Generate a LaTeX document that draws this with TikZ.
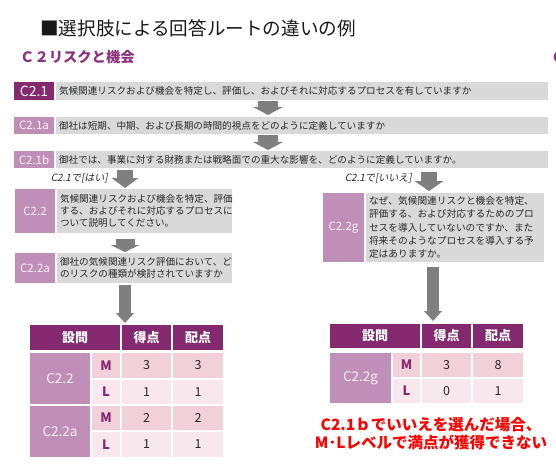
\documentclass[tikz,border=0pt]{standalone}
\usepackage{fontspec}
\setmainfont{Noto Sans CJK JP}
\newfontfamily\slantfont[FakeSlant=0.2]{Noto Sans CJK JP}
\usetikzlibrary{arrows.meta}
\definecolor{pdark}{RGB}{132,40,112}
\definecolor{ptitle}{RGB}{140,50,128}
\definecolor{plight}{RGB}{192,143,183}
\definecolor{pinkM}{RGB}{242,208,217}
\definecolor{pinkL}{RGB}{248,231,236}
\definecolor{gbar}{RGB}{217,217,217}
\definecolor{agray}{RGB}{127,127,127}
\definecolor{txt}{RGB}{40,40,40}
\definecolor{lbltxt}{RGB}{248,238,246}
\tikzset{
  cell/.style={rectangle, inner sep=0pt, anchor=center},
  lbl/.style={cell, fill=plight, text=lbltxt, font=\fontsize{11.5}{13}\selectfont},
  tlbl/.style={cell, fill=plight, text=lbltxt, font=\fontsize{13.5}{15}\selectfont},
  bar/.style={rectangle, inner ysep=0pt, inner xsep=3pt, anchor=center, fill=gbar, text=txt, align=left},
  barfont/.style={font=\fontsize{9.6}{12}\selectfont},
  hdr/.style={cell, fill=pdark, text=white, font=\fontsize{13}{15}\selectfont\bfseries},
  mcell/.style={cell, fill=pinkM},
  lcell/.style={cell, fill=pinkL},
  lvl/.style={text=pdark, font=\fontsize{13}{15}\selectfont\bfseries},
  num/.style={text=txt, font=\fontsize{12.5}{14}\selectfont},
  blk/.style={draw=agray, line cap=butt},
}
\begin{document}
\begin{tikzpicture}[x=1pt,y=-1pt]
\useasboundingbox (0,0) rectangle (556,465);
% titles
\node[anchor=west, inner sep=0pt, text=black!90, font=\fontsize{18.6}{20}\selectfont] (title) at (40,28) {■選択肢による回答ルートの違いの例};
\node[anchor=west, inner sep=0pt, text=ptitle, font=\fontsize{14.3}{16}\selectfont\bfseries] (sub) at (20,57) {Ｃ２リスクと機会};
\node[anchor=west, inner sep=0pt, text=ptitle, font=\fontsize{14}{16}\selectfont\bfseries] (subcut) at (551,57) {Ｃ};
% C2.1 rows
\node[cell, fill=pdark, text=white, minimum width=40pt, minimum height=18pt, font=\fontsize{14}{15}\selectfont] (l21) at (34,91) {C2.1};
\node[bar, barfont, text width=486pt, minimum height=18pt] (b21) at (302,91) {気候関連リスクおよび機会を特定し、評価し、およびそれに対応するプロセスを有していますか};
\node[lbl, minimum width=40pt, minimum height=17pt] (l21a) at (34,125.5) {C2.1a};
\node[bar, barfont, text width=486pt, minimum height=17pt] (b21a) at (302,125.5) {御社は短期、中期、および長期の時間的視点をどのように定義していますか};
\node[lbl, minimum width=40pt, minimum height=17pt] (l21b) at (34,159.5) {C2.1b};
\node[bar, barfont, text width=486pt, minimum height=17pt] (b21b) at (302,159.5) {御社では、事業に対する財務または戦略面での重大な影響を、どのように定義していますか。};
% branch labels
\node[anchor=east, inner sep=0pt, text=txt, font=\fontsize{10}{12}\selectfont\slantfont] (yes) at (108,178) {C2.1で[はい]};
\node[anchor=east, inner sep=0pt, text=txt, font=\fontsize{10}{12}\selectfont\slantfont] (no) at (412,178) {C2.1で[いいえ]};
% C2.2 / C2.2a
\node[lbl, minimum width=40pt, minimum height=44pt] (l22) at (35,211) {C2.2};
\node[bar, barfont, text width=169pt, minimum height=44pt] (b22) at (144.5,211) {気候関連リスクおよび機会を特定、評価\\する、およびそれに対応するプロセスに\\ついて説明してください。};
\node[lbl, minimum width=40pt, minimum height=30pt] (l22a) at (35,268) {C2.2a};
\node[bar, barfont, text width=169pt, minimum height=30pt] (b22a) at (144.5,268) {御社の気候関連リスク評価において、ど\\のリスクの種類が検討されていますか};
% C2.2g
\node[lbl, minimum width=41pt, minimum height=69pt] (l22g) at (343.5,227.5) {C2.2g};
\node[bar, font=\fontsize{9.7}{13.2}\selectfont, text width=172pt, minimum height=69pt] (b22g) at (455,227.5) {なぜ、気候関連リスクと機会を特定、\\評価する、および対応するためのプロ\\セスを導入していないのですか、また\\将来そのようなプロセスを導入する予\\定はありますか。};
% arrows
\coordinate (a1s) at (268,101); \coordinate (a1e) at (268,115);
\coordinate (a2s) at (268,135); \coordinate (a2e) at (268,150);
\coordinate (a3s) at (125,170); \coordinate (a3e) at (125,188);
\coordinate (a4s) at (429,172); \coordinate (a4e) at (429,191);
\coordinate (a5s) at (125,239); \coordinate (a5e) at (125,252);
\coordinate (a6s) at (125,285); \coordinate (a6e) at (125,323);
\coordinate (a7s) at (433,267); \coordinate (a7e) at (433,321);
\draw[blk, line width=20pt, -{Triangle[width=30pt,length=8pt,line width=0pt]}] (a1s) -- (a1e);
\draw[blk, line width=20pt, -{Triangle[width=30pt,length=8pt,line width=0pt]}] (a2s) -- (a2e);
\draw[blk, line width=16pt, -{Triangle[width=27pt,length=10pt,line width=0pt]}] (a3s) -- (a3e);
\draw[blk, line width=16pt, -{Triangle[width=29pt,length=10pt,line width=0pt]}] (a4s) -- (a4e);
\draw[blk, line width=19pt, -{Triangle[width=29pt,length=7pt,line width=0pt]}] (a5s) -- (a5e);
\draw[blk, line width=12pt, -{Triangle[width=18pt,length=10pt,line width=0pt]}] (a6s) -- (a6e);
\draw[blk, line width=12pt, -{Triangle[width=18pt,length=10pt,line width=0pt]}] (a7s) -- (a7e);
% left table
\node[hdr, minimum width=90pt, minimum height=25pt] (lh1) at (75,337.5) {設問};
\node[hdr, minimum width=49pt, minimum height=25pt] (lh2) at (146.5,337.5) {得点};
\node[hdr, minimum width=50pt, minimum height=25pt] (lh3) at (198,337.5) {配点};
\node[tlbl, minimum width=60pt, minimum height=51pt] (lt1) at (60,378.5) {C2.2};
\node[tlbl, minimum width=60pt, minimum height=51pt] (lt2) at (60,431.5) {C2.2a};
\node[mcell, lvl, minimum width=28pt, minimum height=25pt] (lm1) at (106,365.5) {M};
\node[mcell, num, minimum width=49pt, minimum height=25pt] (ls1) at (146.5,365.5) {3};
\node[mcell, num, minimum width=50pt, minimum height=25pt] (lp1) at (198,365.5) {3};
\node[lcell, lvl, minimum width=28pt, minimum height=24pt] (ll1) at (106,392) {L};
\node[lcell, num, minimum width=49pt, minimum height=24pt] (ls2) at (146.5,392) {1};
\node[lcell, num, minimum width=50pt, minimum height=24pt] (lp2) at (198,392) {1};
\node[mcell, lvl, minimum width=28pt, minimum height=24pt] (lm2) at (106,418) {M};
\node[mcell, num, minimum width=49pt, minimum height=24pt] (ls3) at (146.5,418) {2};
\node[mcell, num, minimum width=50pt, minimum height=24pt] (lp3) at (198,418) {2};
\node[lcell, lvl, minimum width=28pt, minimum height=25pt] (ll2) at (106,444.5) {L};
\node[lcell, num, minimum width=49pt, minimum height=25pt] (ls4) at (146.5,444.5) {1};
\node[lcell, num, minimum width=50pt, minimum height=25pt] (lp4) at (198,444.5) {1};
% right table
\node[hdr, minimum width=90pt, minimum height=24pt] (rh1) at (375,336) {設問};
\node[hdr, minimum width=49pt, minimum height=24pt] (rh2) at (446.5,336) {得点};
\node[hdr, minimum width=50pt, minimum height=24pt] (rh3) at (498,336) {配点};
\node[tlbl, minimum width=61pt, minimum height=50pt] (rt1) at (360.5,378) {C2.2g};
\node[mcell, lvl, minimum width=27pt, minimum height=24pt] (rm1) at (406.5,365) {M};
\node[mcell, num, minimum width=49pt, minimum height=24pt] (rs1) at (446.5,365) {3};
\node[mcell, num, minimum width=50pt, minimum height=24pt] (rp1) at (498,365) {8};
\node[lcell, lvl, minimum width=27pt, minimum height=24pt] (rl1) at (406.5,391) {L};
\node[lcell, num, minimum width=49pt, minimum height=24pt] (rs2) at (446.5,391) {0};
\node[lcell, num, minimum width=50pt, minimum height=24pt] (rp2) at (498,391) {1};
% note
\node[align=center, inner sep=0pt, text=red, font=\fontsize{15.5}{18}\selectfont\bfseries] (note) at (431,434) {C2.1ｂでいいえを選んだ場合、\\M･Lレベルで満点が獲得できない};
\end{tikzpicture}
\end{document}
